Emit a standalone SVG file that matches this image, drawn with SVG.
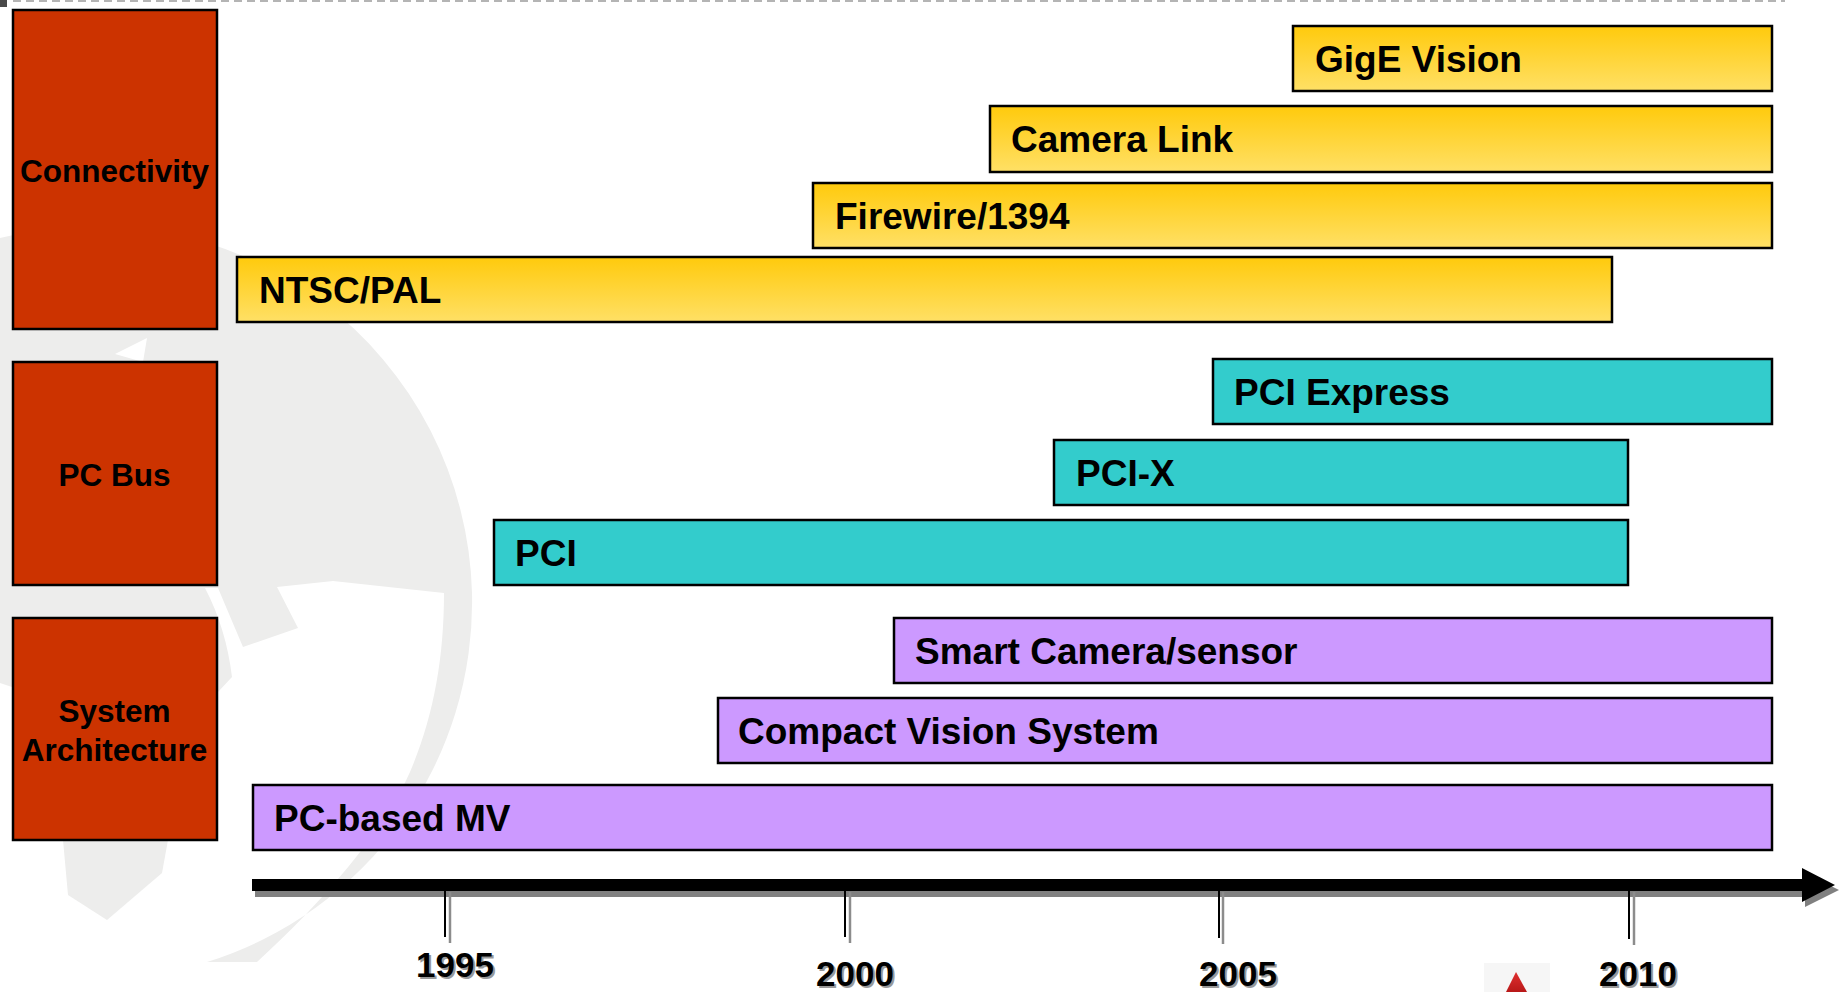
<svg xmlns="http://www.w3.org/2000/svg" width="1840" height="992" viewBox="0 0 1840 992">
<defs>
<linearGradient id="yel" x1="0" y1="0" x2="0" y2="1">
<stop offset="0" stop-color="#FFCA0C"/>
<stop offset="1" stop-color="#FFE066"/>
</linearGradient>
<linearGradient id="redtri" x1="0" y1="0" x2="0" y2="1">
<stop offset="0" stop-color="#E03030"/>
<stop offset="1" stop-color="#B81818"/>
</linearGradient>
</defs>
<style>
.wm{fill:#EDEDEC;stroke:none}
.cat{fill:#CC3300;stroke:#000;stroke-width:2.5}
.bar{stroke:#000;stroke-width:2.5}
.y{fill:url(#yel)}
.t{fill:#33CCCC}
.p{fill:#CC99FF}
.ct{font-family:"Liberation Sans",Arial,sans-serif;font-weight:bold;font-size:31.5px;fill:#000;text-anchor:middle}
.bt{font-family:"Liberation Sans",Arial,sans-serif;font-weight:bold;font-size:37px;fill:#000}
.yr{font-family:"Liberation Sans",Arial,sans-serif;font-weight:bold;font-size:35px;text-anchor:middle}
.tk{stroke:#000;stroke-width:2}
.tks{stroke:#8C8C8C;stroke-width:2.5}
</style>
<rect width="1840" height="992" fill="#FFFFFF"/>
<g id="watermark">
<path class="wm" d="M0,683 L0,238 A377,377 0 0 1 472,593 L444,593 L333,581 L277,587 L298,628 L243,647 L218,588 L205,588 Q226,628 232,677 L218,692 L12,692 L12,687 Z"/>
<path class="wm" d="M472,593 A377,377 0 0 1 207,962 L257,962 C320,905 385,830 410,772 C433,718 444,660 444,593 Z"/>
<path class="wm" d="M63,840 L168,840 L162,873 L107,920 L68,895 Z"/>
<path fill="#FFFFFF" d="M115,354 L147,338 L143,362 Z"/>
</g>
<g id="topline">
<rect x="0" y="0" width="7" height="7" fill="#4A4A4A"/>
<line x1="13" y1="1" x2="1785" y2="1" stroke="#B4B4B4" stroke-width="2" stroke-dasharray="8,5"/>
</g>
<g id="cat-connectivity">
<rect class="cat" x="13" y="10" width="204" height="319"/>
<text class="ct" x="114.5" y="182">Connectivity</text>
</g>
<g id="cat-pcbus">
<rect class="cat" x="13" y="362" width="204" height="223"/>
<text class="ct" x="114.5" y="486">PC Bus</text>
</g>
<g id="cat-sysarch">
<rect class="cat" x="13" y="618" width="204" height="222"/>
<text class="ct" x="114.5" y="722">System</text>
<text class="ct" x="114.5" y="761">Architecture</text>
</g>
<g id="bar-gige">
<rect class="bar y" x="1293" y="26" width="479" height="65"/>
<text class="bt" x="1315" y="72">GigE Vision</text>
</g>
<g id="bar-cameralink">
<rect class="bar y" x="990" y="106" width="782" height="66"/>
<text class="bt" x="1011" y="152">Camera Link</text>
</g>
<g id="bar-firewire">
<rect class="bar y" x="813" y="183" width="959" height="65"/>
<text class="bt" x="835" y="229">Firewire/1394</text>
</g>
<g id="bar-ntsc">
<rect class="bar y" x="237" y="257" width="1375" height="65"/>
<text class="bt" x="259" y="303">NTSC/PAL</text>
</g>
<g id="bar-pciexpress">
<rect class="bar t" x="1213" y="359" width="559" height="65"/>
<text class="bt" x="1234" y="405">PCI Express</text>
</g>
<g id="bar-pcix">
<rect class="bar t" x="1054" y="440" width="574" height="65"/>
<text class="bt" x="1076" y="486">PCI-X</text>
</g>
<g id="bar-pci">
<rect class="bar t" x="494" y="520" width="1134" height="65"/>
<text class="bt" x="515" y="566">PCI</text>
</g>
<g id="bar-smart">
<rect class="bar p" x="894" y="618" width="878" height="65"/>
<text class="bt" x="915" y="664">Smart Camera/sensor</text>
</g>
<g id="bar-compact">
<rect class="bar p" x="718" y="698" width="1054" height="65"/>
<text class="bt" x="738" y="744">Compact Vision System</text>
</g>
<g id="bar-pcmv">
<rect class="bar p" x="253" y="785" width="1519" height="65"/>
<text class="bt" x="274" y="831">PC-based MV</text>
</g>
<g id="connectors">
<g id="timeline-shadow" fill="#808080">
<rect x="255" y="885" width="1550" height="12"/>
<polygon points="1805,873 1839,890 1805,907"/>
</g>
<g id="timeline" fill="#000">
<rect x="252" y="879" width="1552" height="12"/>
<polygon points="1802,868 1835,885 1802,902"/>
</g>
<g id="ticks">
<line class="tks" x1="450" y1="892" x2="450" y2="943"/>
<line class="tk" x1="445" y1="890" x2="445" y2="937"/>
<line class="tks" x1="850" y1="892" x2="850" y2="943"/>
<line class="tk" x1="845" y1="890" x2="845" y2="937"/>
<line class="tks" x1="1223" y1="892" x2="1223" y2="944"/>
<line class="tk" x1="1219" y1="890" x2="1219" y2="938"/>
<line class="tks" x1="1634" y1="892" x2="1634" y2="945"/>
<line class="tk" x1="1629" y1="890" x2="1629" y2="939"/>
</g>
</g>
<g id="years">
<text class="yr" x="457" y="979" fill="#999999">1995</text>
<text class="yr" x="455" y="977" fill="#000">1995</text>
<text class="yr" x="857" y="988" fill="#999999">2000</text>
<text class="yr" x="855" y="986" fill="#000">2000</text>
<text class="yr" x="1240" y="988" fill="#999999">2005</text>
<text class="yr" x="1238" y="986" fill="#000">2005</text>
<text class="yr" x="1640" y="988" fill="#999999">2010</text>
<text class="yr" x="1638" y="986" fill="#000">2010</text>
</g>
<g id="logo-fragment">
<rect x="1484" y="963" width="66" height="29" fill="#F6F6F6"/>
<polygon points="1516,972 1506,992 1527,992" fill="url(#redtri)"/>
</g>
</svg>
